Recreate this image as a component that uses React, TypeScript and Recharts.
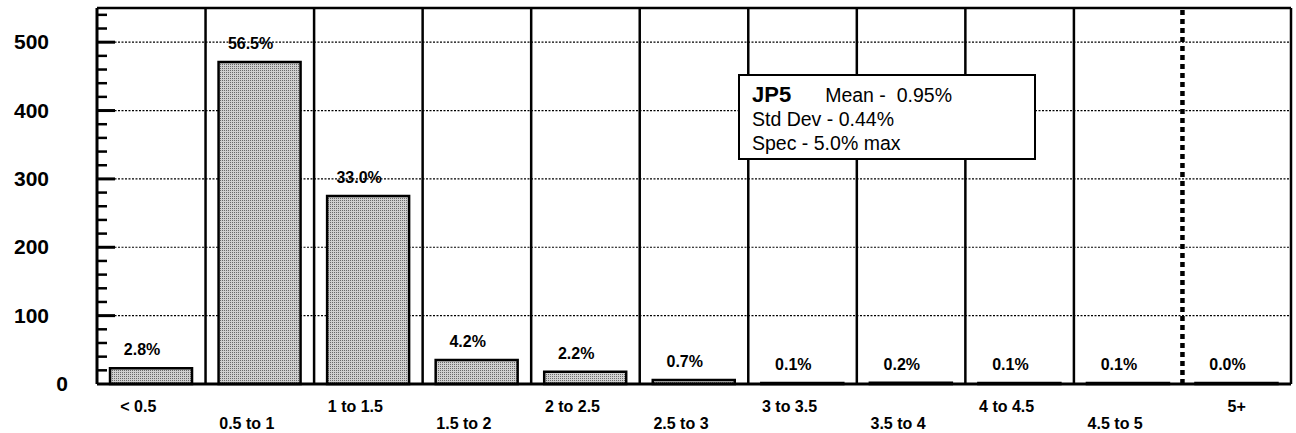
import { BarChart, Bar, XAxis, YAxis, CartesianGrid, ReferenceLine, LabelList } from "recharts";

const categories = ["< 0.5", "0.5 to 1", "1 to 1.5", "1.5 to 2", "2 to 2.5", "2.5 to 3", "3 to 3.5", "3.5 to 4", "4 to 4.5", "4.5 to 5", "5+"];
const counts = [23, 471, 275, 35, 18, 6, 1, 2, 1, 1, 0];
const pctLabels = ["2.8%", "56.5%", "33.0%", "4.2%", "2.2%", "0.7%", "0.1%", "0.2%", "0.1%", "0.1%", "0.0%"];
const yTicks = [0, 20, 40, 60, 80, 100, 120, 140, 160, 180, 200, 220, 240, 260, 280, 300, 320, 340, 360, 380, 400, 420, 440, 460, 480, 500, 520, 540];
const yMajor = [100, 200, 300, 400, 500];
const specCategory = "5+";

const data = categories.map((c, i) => ({ cat: c, count: counts[i], pct: pctLabels[i] }));

const font = "'Liberation Sans', Arial, Helvetica, sans-serif";

function YTick(props: any) {
  const { x, y, payload } = props;
  const v = payload.value;
  const major = v % 100 === 0;
  return (
    <g>
      {v !== 0 && (
        <line x1={x} x2={x + (major ? 18 : 10)} y1={y} y2={y} stroke="#000" strokeWidth={major ? 3 : 2.5} />
      )}
      {major && (
        <text x={v === 0 ? x - 29 : x - 48} y={y + 7} textAnchor="end" fontFamily={font} fontWeight="bold" fontSize={21} fill="#000">
          {v}
        </text>
      )}
    </g>
  );
}

function XTick(props: any) {
  const { x, y, payload, index } = props;
  const last = index === categories.length - 1;
  return (
    <text x={last ? x : x - 13} y={y + (index % 2 === 0 ? 28 : 45)} textAnchor="middle" fontFamily={font} fontWeight="bold" fontSize={16} fill="#000">
      {payload.value}
    </text>
  );
}

function PctLabel(props: any) {
  const { x, y, width, value } = props;
  return (
    <text x={x + width / 2 - 9} y={y - 13} textAnchor="middle" fontFamily={font} fontWeight="bold" fontSize={16} fill="#000">
      {value}
    </text>
  );
}

export default function App() {
  return (
    <div style={{ position: "absolute", left: 0, top: 0, width: 1296, height: 433, background: "#fff" }}>
      <BarChart width={1296} height={433} data={data} margin={{ top: 8, right: 5, bottom: 0, left: 0 }} barCategoryGap="12%">
        <defs>
          <pattern id="stipple" width="2" height="2" patternUnits="userSpaceOnUse">
            <rect width="2" height="2" fill="#d0d0d0" />
            <rect width="1" height="1" fill="#6a6a6a" />
          </pattern>
        </defs>
        <CartesianGrid vertical={false} horizontalValues={yMajor} stroke="#000" strokeWidth={1.2} strokeDasharray="2 1.5" />
        <XAxis
          dataKey="cat"
          axisLine={{ stroke: "#000", strokeWidth: 3 }}
          tickLine={false}
          tickSize={0}
          tickMargin={0}
          height={49}
          interval={0}
          tick={<XTick />}
        />
        <YAxis
          domain={[0, 550]}
          ticks={yTicks}
          interval={0}
          width={97}
          axisLine={{ stroke: "#000", strokeWidth: 3 }}
          tickLine={false}
          tickSize={0}
          tickMargin={0}
          tick={<YTick />}
        />
        <ReferenceLine y={550} stroke="#000" strokeWidth={2.5} ifOverflow="visible" />
        <ReferenceLine x={categories[categories.length - 1]} position="end" stroke="#000" strokeWidth={2.5} ifOverflow="visible" />
        {categories.slice(1).filter((c) => c !== specCategory).map((c) => (
          <ReferenceLine key={c} x={c} position="start" stroke="#000" strokeWidth={2.5} />
        ))}
        <ReferenceLine x={specCategory} position="start" stroke="#000" strokeWidth={4.5} strokeDasharray="5 4" />
        <Bar dataKey="count" fill="url(#stipple)" stroke="#000" strokeWidth={2.5} minPointSize={1} isAnimationActive={false}>
          <LabelList dataKey="pct" content={<PctLabel />} />
        </Bar>
      </BarChart>
      <div
        style={{
          position: "absolute",
          left: 738,
          top: 74,
          width: 298,
          height: 86,
          boxSizing: "border-box",
          border: "2px solid #000",
          background: "#fff",
          fontFamily: font,
          color: "#000",
          paddingTop: 7,
          paddingLeft: 12,
        }}
      >
        <div style={{ height: 24, lineHeight: "24px", fontSize: 19.5, whiteSpace: "nowrap" }}>
          <span style={{ fontWeight: "bold", fontSize: 22 }}>JP5</span>
          <span style={{ marginLeft: 34 }}>Mean -&nbsp; 0.95%</span>
        </div>
        <div style={{ height: 24, lineHeight: "24px", fontSize: 19.5, whiteSpace: "nowrap" }}>Std Dev - 0.44%</div>
        <div style={{ height: 24, lineHeight: "24px", fontSize: 19.5, whiteSpace: "nowrap" }}>Spec - 5.0% max</div>
      </div>
    </div>
  );
}
